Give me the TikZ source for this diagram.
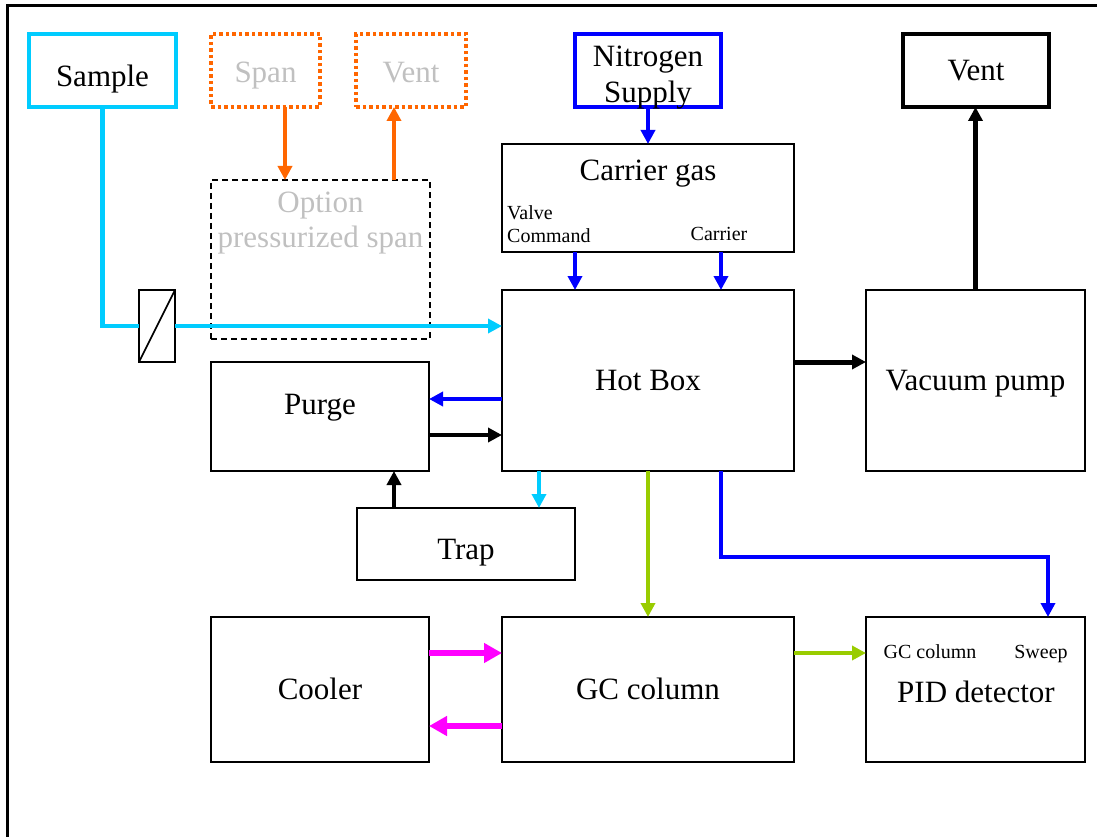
\documentclass[tikz,border=0pt]{standalone}
\usepackage{fontspec}
\setmainfont{Liberation Serif}
\usetikzlibrary{arrows.meta,calc}
\definecolor{cy}{RGB}{0,204,255}
\definecolor{org}{RGB}{255,102,0}
\definecolor{gtxt}{RGB}{192,192,192}
\definecolor{bl}{RGB}{0,0,255}
\definecolor{grn}{RGB}{153,204,0}
\definecolor{mag}{RGB}{255,0,255}
\tikzset{
  box/.style={draw,line width=2pt,inner sep=0pt,outer sep=0pt,align=center,font=\fontsize{31}{35}\selectfont,text height=20.5pt,text depth=0pt},
  big/.style={font=\fontsize{31}{35}\selectfont,inner sep=0pt,align=center},
  captxt/.style={big,text height=20.5pt,text depth=0pt},
  small/.style={font=\fontsize{20}{23.5}\selectfont,inner sep=0pt},
  scaptxt/.style={small,text height=13.3pt,text depth=0pt},
  tip/.style={-{Triangle[length=14pt,width=14pt]}},
  conn/.style={tip,line width=3.5pt}
}
\begin{document}
\begin{tikzpicture}[x=1pt,y=-1pt]
\useasboundingbox (0,0) rectangle (1097,837);
\draw[line width=3pt] (7,837) -- (7,6) -- (1097,6);
% boxes
\node[box,draw=cy,line width=4pt,minimum width=147pt,minimum height=73pt] (sample) at (102.5,70.5) {};
\node[captxt] (sampletxt) at (102.5,76) {Sample};
\node[box,draw=org,line width=3.5pt,dash pattern=on 3.5pt off 3pt,minimum width=109pt,minimum height=73pt] (span) at (265.5,70.5) {};
\node[captxt,text=gtxt] (spantxt) at (265.5,72) {Span};
\node[box,draw=org,line width=3.5pt,dash pattern=on 3.5pt off 3pt,minimum width=110pt,minimum height=73pt] (vento) at (411,70.5) {};
\node[captxt,text=gtxt] (ventotxt) at (411,72) {Vent};
\node[box,line width=1.6pt,dash pattern=on 6pt off 4pt,minimum width=219pt,minimum height=159pt] (option) at (320.5,259.5) {};
\node[big,text=gtxt] (optiontxt) at (320.5,223) {Option\\pressurized span};
\node[box,draw=bl,line width=4pt,minimum width=146pt,minimum height=73pt] (nitro) at (648,70.5) {};
\node[big,font=\fontsize{31}{36}\selectfont] (nitrotxt) at (648,77.5) {Nitrogen\\Supply};
\node[box,line width=4.5pt,minimum width=146pt,minimum height=73pt] (vent) at (976,70.5) {Vent};
\node[box,minimum width=292pt,minimum height=108pt] (carrier) at (648,198) {};
\node[captxt] (carriertxt) at (648,170.3) {Carrier gas};
\node[small,anchor=west,align=left] (valvetxt) at (507,224) {Valve\\Command};
\node[scaptxt] (carrierlbl) at (719,234) {Carrier};
\node[box,minimum width=292pt,minimum height=181pt] (hot) at (648,380.5) {Hot Box};
\node[box,minimum width=219pt,minimum height=181pt] (vacuum) at (975.5,380.5) {Vacuum pump};
\node[box,minimum width=218pt,minimum height=109pt] (purge) at (320,416.5) {};
\node[captxt] (purgetxt) at (320,404.7) {Purge};
\node[box,minimum width=218pt,minimum height=72pt] (trap) at (466,544) {};
\node[captxt] (traptxt) at (466,549.5) {Trap};
\node[box,minimum width=218pt,minimum height=145pt] (cooler) at (320,689.5) {Cooler};
\node[box,minimum width=292pt,minimum height=145pt] (gc) at (648,689.5) {GC column};
\node[box,minimum width=219pt,minimum height=145pt] (pid) at (975.5,689.5) {};
\node[scaptxt] (pidgc) at (930,652.3) {GC column};
\node[scaptxt] (pidsweep) at (1041,652.3) {Sweep};
\node[captxt] (pidtxt) at (976,692.7) {PID detector};
% valve
\node[draw,line width=1.6pt,inner sep=0pt,outer sep=0pt,minimum width=36pt,minimum height=72pt] (valve) at (157,326) {};
\draw[line width=1.6pt] (valve.south west) -- (valve.north east);
% anchor coordinates for offset connectors
\coordinate (spanout) at ([xshift=19.5pt]span.south);
\coordinate (ventin) at ([xshift=-17pt]vento.south);
\coordinate (hotvac) at ([yshift=18.5pt]hot.east);
\coordinate (hotpurge) at ([yshift=-18.5pt]hot.west);
\coordinate (purgehot) at ([yshift=-18.5pt]purge.east);
\coordinate (trapout) at ([xshift=-72pt]trap.north);
\coordinate (hottrap) at ([xshift=-109pt]hot.south);
\coordinate (coolout) at ([yshift=36.5pt]cooler.east);
\coordinate (gccool) at ([yshift=-36.5pt]gc.west);
\coordinate (gcpid) at ([yshift=36.5pt]gc.east);
% connectors
\draw[cy,line width=4.5pt] (sample.south) |- (valve.west);
\draw[cy,conn,line width=4.5pt] (valve.east) -- (hot.west |- valve.east);
\draw[org,conn] (spanout) -- (spanout |- option.north);
\draw[org,conn] (ventin |- option.north) -- (ventin);
\draw[bl,conn] (nitro.south) -- (carrier.north);
\draw[bl,conn] ([xshift=-73pt]carrier.south) -- ([xshift=-73pt]hot.north);
\draw[bl,conn] ([xshift=73pt]carrier.south) -- ([xshift=73pt]hot.north);
\draw[conn,line width=5pt] (hotvac) -- (vacuum.west |- hotvac);
\draw[conn,line width=5pt] (vacuum.north) -- (vacuum.north |- vent.south);
\draw[bl,conn] (hotpurge) -- (purge.east |- hotpurge);
\draw[conn] (purgehot) -- (hot.west |- purgehot);
\draw[conn] (trapout) -- (trapout |- purge.south);
\draw[cy,conn] (hottrap) -- (hottrap |- trap.north);
\draw[grn,conn] (hot.south) -- (gc.north);
\draw[bl,conn] ([xshift=73pt]hot.south) -- ++(0,86) -| ([xshift=72.5pt]pid.north);
\draw[mag,line width=6pt,-{Triangle[length=18pt,width=19pt]}] (coolout) -- (gc.west |- coolout);
\draw[mag,line width=6pt,-{Triangle[length=18pt,width=19pt]}] (gccool) -- (cooler.east |- gccool);
\draw[grn,conn] (gcpid) -- (pid.west |- gcpid);
\end{tikzpicture}
\end{document}
